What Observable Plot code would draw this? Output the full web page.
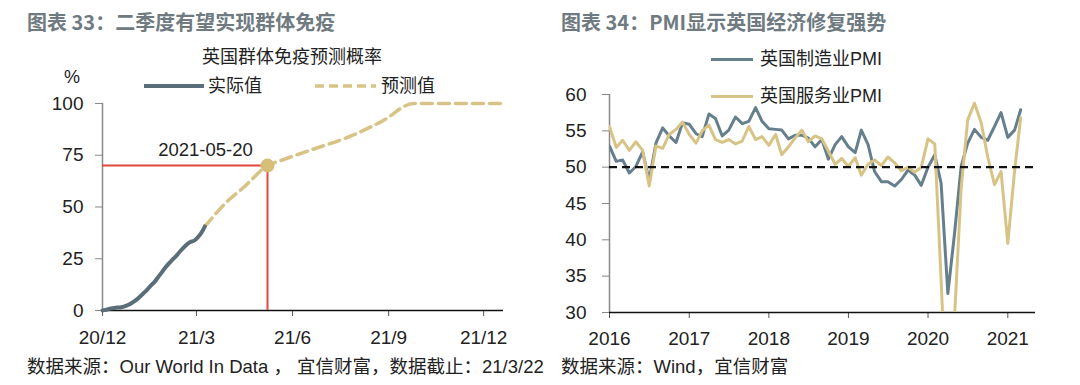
<!DOCTYPE html>
<html><head><meta charset="utf-8">
<script src="https://cdn.jsdelivr.net/npm/d3@7"></script>
<script src="https://cdn.jsdelivr.net/npm/@observablehq/plot@0.6"></script>
<style>
html,body{margin:0;padding:0;background:#fff;}
body{width:1080px;height:385px;overflow:hidden;position:relative;font-family:"Liberation Sans","Noto Sans CJK SC",sans-serif;color:#222;}
.abs{position:absolute;white-space:nowrap;line-height:1;}
.title{font-size:20px;font-weight:bold;color:#6f7a81;font-family:"Noto Sans CJK SC",sans-serif;}
.t18{font-size:18px;}
.foot{font-size:18.5px;}
svg.sw{position:absolute;overflow:visible;}
</style></head><body>
<div id="left" class="abs" style="left:0;top:0"></div>
<div id="right" class="abs" style="left:540px;top:0"></div>

<div class="abs title" style="left:27px;top:12px">图表 33：二季度有望实现群体免疫</div>
<div class="abs title" style="left:561px;top:12px">图表 34：PMI显示英国经济修复强势</div>

<div class="abs t18" style="left:292px;top:48px;transform:translateX(-50%)">英国群体免疫预测概率</div>
<div class="abs t18" style="left:64px;top:68px">%</div>

<svg class="sw" style="left:0;top:0" width="1080" height="120">
  <line x1="144" y1="86" x2="204" y2="86" stroke="#5a6e79" stroke-width="4"/>
  <line x1="315" y1="86" x2="376" y2="86" stroke="#d8c386" stroke-width="3.5" stroke-dasharray="9,5"/>
  <line x1="711" y1="59.5" x2="753" y2="59.5" stroke="#667f8c" stroke-width="3"/>
  <line x1="711" y1="96.5" x2="753" y2="96.5" stroke="#d8c386" stroke-width="3"/>
</svg>
<div class="abs t18" style="left:208px;top:77px">实际值</div>
<div class="abs t18" style="left:381px;top:77px">预测值</div>
<div class="abs t18" style="left:760px;top:50px">英国制造业PMI</div>
<div class="abs t18" style="left:760px;top:87px">英国服务业PMI</div>

<div class="abs foot" style="left:27px;top:358px">数据来源：Our World In Data ， 宜信财富，数据截止：21/3/22</div>
<div class="abs foot" style="left:561px;top:358px">数据来源：Wind，宜信财富</div>

<script>
// ---------- Left chart data: UK herd immunity probability (%) ----------
const actualDates = ["2020-12-13","2020-12-16","2020-12-20","2020-12-24","2020-12-27","2020-12-31",
  "2021-01-03","2021-01-07","2021-01-10","2021-01-14","2021-01-17","2021-01-21","2021-01-24","2021-01-28","2021-01-31",
  "2021-02-04","2021-02-07","2021-02-11","2021-02-14","2021-02-18","2021-02-21","2021-02-25","2021-02-28",
  "2021-03-04","2021-03-07","2021-03-10","2021-03-12","2021-03-14","2021-03-17","2021-03-19","2021-03-21"];
const actualValues = [0.0,0.3,0.9,1.2,1.4,1.6,
  2.0,2.8,3.6,5.0,6.3,8.2,9.6,11.9,13.3,
  15.9,17.9,20.6,22.4,24.6,26.0,28.4,30.0,
  32.0,33.1,33.6,34.2,35.2,37.0,38.6,40.6];
const forecastDates = ["2021-03-21","2021-03-31","2021-04-10","2021-04-20","2021-04-27","2021-05-04","2021-05-10",
  "2021-05-15","2021-05-20","2021-06-01","2021-07-02","2021-08-04","2021-09-07","2021-10-07","2022-01-01"];
const forecastValues = [40.6,46.5,52.0,56.5,59.4,62.8,65.8,68.2,70.0,72.3,77.8,83.5,91.5,100,100];
const markerDate = "2021-05-20";
const markerValue = 70;
const markerLabel = "2021-05-20";
const leftXTicks = ["2020-12-13","2021-03-13","2021-06-13","2021-09-13","2021-12-13"];
const leftYTicks = [0,25,50,75,100];

// ---------- Right chart data: UK PMI, monthly from 2016-01 ----------
const pmiStart = "2016-01-01";
const manufacturing = [
  52.9,50.8,51.0,49.2,50.1,52.1,48.2,53.3,55.4,54.3,53.4,56.1,
  55.9,54.6,54.2,57.3,56.7,54.3,55.1,56.9,56.0,56.3,58.2,56.3,
  55.3,55.2,55.1,53.9,54.4,54.4,54.0,52.8,53.8,51.1,53.1,54.2,
  52.8,52.0,55.1,53.1,49.4,48.0,48.0,47.4,48.3,49.6,48.9,47.5,
  50.0,51.7,47.8,32.6,40.7,50.1,53.3,55.2,54.1,53.7,55.6,57.5,
  54.1,55.1,57.9];
const services = [
  55.6,52.7,53.7,52.3,53.5,52.3,47.4,52.9,52.6,54.5,55.2,56.2,
  54.5,53.3,55.0,55.8,53.8,53.4,53.8,53.2,53.6,55.6,53.8,54.2,
  53.0,54.5,51.7,52.8,54.0,55.1,53.5,54.3,53.9,52.2,50.4,51.2,
  50.1,51.3,48.9,50.4,51.0,50.2,51.4,50.6,49.5,50.0,49.3,50.0,
  53.9,53.2,34.5,13.4,29.0,47.1,56.5,58.8,56.1,51.4,47.6,49.4,
  39.5,49.5,56.8];
const rightXTicks = ["2016-01-01","2017-01-01","2018-01-01","2019-01-01","2020-01-01","2021-01-01"];
const rightYTicks = [30,35,40,45,50,55,60];
const referenceLevel = 50;

// ---------- build ----------
const parse = d3.utcParse("%Y-%m-%d");
const actual = actualDates.map((d,i)=>({date:parse(d), value:actualValues[i]}));
const forecast = forecastDates.map((d,i)=>({date:parse(d), value:forecastValues[i]}));
const marker = [{date:parse(markerDate), value:markerValue, label:markerLabel}];
const leftStart = parse("2020-12-13"), leftEnd = parse("2022-01-01");

const fontStyle = {fontFamily:"Liberation Sans, Noto Sans CJK SC, sans-serif", fontSize:"19px", color:"#222", background:"transparent", overflow:"visible"};

const left = Plot.plot({
  width:540, height:385, marginLeft:102, marginRight:37, marginTop:103, marginBottom:75,
  style: fontStyle,
  x:{type:"utc", domain:[leftStart, leftEnd]},
  y:{domain:[0,100]},
  marks:[
    Plot.axisY({ticks:leftYTicks, tickSize:7, tickPadding:12, label:null, stroke:"#888", fill:"#222"}),
    Plot.axisX({ticks:leftXTicks.map(parse), tickFormat:d3.utcFormat("%y/%-m"), tickSize:6, tickPadding:13.5, label:null, stroke:"#555", fill:"#222"}),
    Plot.ruleX([leftStart], {stroke:"#888", strokeWidth:1.5}),
    Plot.ruleY([0], {stroke:"#111", strokeWidth:1.5}),
    Plot.ruleY(marker, {y:"value", x1:()=>leftStart, x2:"date", stroke:"#e2463d", strokeWidth:2}),
    Plot.ruleX(marker, {x:"date", y1:0, y2:"value", stroke:"#e2463d", strokeWidth:2}),
    Plot.line(forecast, {x:"date", y:"value", stroke:"#d8c386", strokeWidth:3.5, strokeDasharray:"11,6", curve:"monotone-x"}),
    Plot.line(actual, {x:"date", y:"value", stroke:"#5a6e79", strokeWidth:4, curve:"monotone-x"}),
    Plot.dot(marker, {x:"date", y:"value", r:7, fill:"#d6bd78", stroke:"none"}),
    Plot.text(marker, {x:"date", y:"value", text:"label", dx:-62, dy:-16, fontSize:18.5, fill:"#222"})
  ]
});
document.getElementById("left").appendChild(left);

const monthDates = d3.utcMonth.range(parse(pmiStart), d3.utcMonth.offset(parse(pmiStart), manufacturing.length));
const pmi = monthDates.map((d,i)=>({date:d, manufacturing:manufacturing[i], services:services[i]}));
const rightStart = parse("2016-01-01"), rightEnd = parse("2021-05-08");

const right = Plot.plot({
  width:540, height:385, marginLeft:69, marginRight:45, marginTop:94, marginBottom:73,
  style: fontStyle,
  x:{type:"utc", domain:[rightStart, rightEnd]},
  y:{domain:[30,60]},
  marks:[
    Plot.axisY({ticks:rightYTicks, tickSize:7, tickPadding:16, label:null, stroke:"#888", fill:"#222"}),
    Plot.axisX({ticks:rightXTicks.map(parse), tickFormat:d3.utcFormat("%Y"), tickSize:6, tickPadding:13, label:null, stroke:"#555", fill:"#222"}),
    Plot.ruleX([rightStart], {stroke:"#888", strokeWidth:1.5}),
    Plot.ruleY([30], {stroke:"#111", strokeWidth:1.5}),
    Plot.line(pmi, {x:"date", y:"manufacturing", stroke:"#667f8c", strokeWidth:3, clip:true}),
    Plot.line(pmi, {x:"date", y:"services", stroke:"#d8c386", strokeWidth:3, clip:true}),
    Plot.ruleY([referenceLevel], {stroke:"#111", strokeWidth:2.2, strokeDasharray:"8,5"})
  ]
});
document.getElementById("right").appendChild(right);
</script>
</body></html>
